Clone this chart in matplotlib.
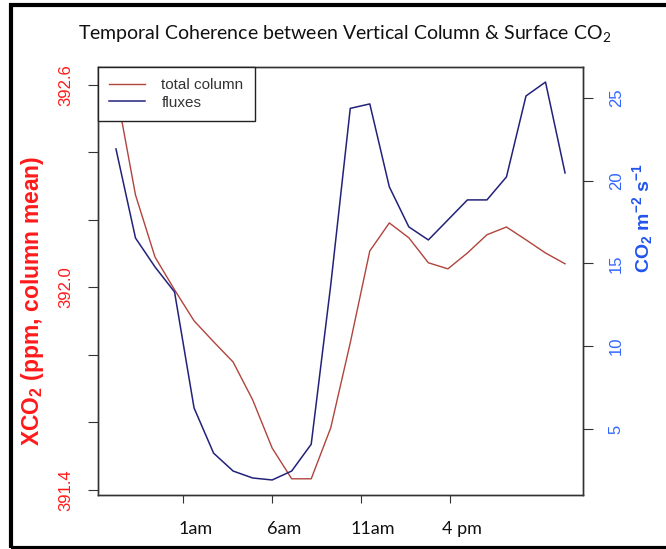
import matplotlib.pyplot as plt
import matplotlib.transforms as mtransforms
from matplotlib.patches import Rectangle
import numpy as np

plt.rcParams['font.family'] = ['Liberation Sans', 'DejaVu Sans']
plt.rcParams['mathtext.default'] = 'regular'

# hourly values, 24 steps
hours = np.arange(1, 25)
xco2 = [392.588, 392.274, 392.090, 391.993, 391.901, 391.839, 391.779, 391.667,
        391.524, 391.433, 391.433, 391.584, 391.836, 392.108, 392.191, 392.147,
        392.073, 392.055, 392.102, 392.156, 392.179, 392.141, 392.102, 392.070]
fluxes = [21.92, 16.54, 14.79, 13.28, 6.27, 3.54, 2.46, 2.04,
          1.92, 2.46, 4.08, 13.70, 24.37, 24.64, 19.63, 17.21,
          16.42, 17.63, 18.84, 18.84, 20.23, 25.12, 25.96, 20.47]

time_ticks = [4.45, 9.0, 13.55, 18.1]
time_labels = ['1am', '6am', '11am', '4 pm']
left_ticks = [391.4, 391.6, 391.8, 392.0, 392.2, 392.4, 392.6]
left_labels = ['391.4', '', '', '392.0', '', '', '392.6']
right_ticks = [5, 10, 15, 20, 25]

red_line = '#b0443c'
blue_line = '#22227a'
red_txt = '#ff1a1a'
blue_txt = '#3366ff'

fig = plt.figure(figsize=(6.66, 5.49), dpi=100)
ax = fig.add_axes([98/666, 54/549, 485/666, 428/549])
ax2 = ax.twinx()

l1, = ax.plot(hours, xco2, color=red_line, lw=1.0)
l2, = ax2.plot(hours, fluxes, color=blue_line, lw=1.1)

ax.set_xlim(0.08, 24.92)
ax.set_ylim(391.385, 392.653)
ax2.set_ylim(1.012, 26.87)

for a in (ax, ax2):
    for s in a.spines.values():
        s.set_color('#333333')
        s.set_linewidth(1.0)

ax.set_yticks(left_ticks)
ax.set_yticklabels(left_labels, rotation=90, va='center', ha='center')
ax.tick_params(axis='y', colors='#333333', labelcolor=red_txt, labelsize=12,
               length=7, pad=16)
ax.set_xticks(time_ticks)
ax.set_xticklabels(time_labels, fontfamily='Lato', fontsize=13)
ax.tick_params(axis='x', colors='#333333', labelcolor='#111111', length=6, pad=13)
# labels in the reference sit a bit right of their ticks
shift = mtransforms.ScaledTranslation(12/100, 0, fig.dpi_scale_trans)
for lab in ax.get_xticklabels():
    lab.set_transform(lab.get_transform() + shift)

ax2.set_yticks(right_ticks)
ax2.set_yticklabels([str(t) for t in right_ticks], rotation=90, va='center', ha='center')
ax2.tick_params(axis='y', colors='#333333', labelcolor=blue_txt, labelsize=12,
                length=7, pad=17)

leg = ax2.legend([l1, l2], ['total column', 'fluxes'], loc='upper left',
                 borderaxespad=0, fancybox=False, framealpha=1, edgecolor='#222222',
                 fontsize=11, handlelength=2.3, handletextpad=1.1,
                 borderpad=0.75, labelspacing=0.2, labelcolor='#333333')
leg.get_frame().set_linewidth(1.0)

fig.text(345/666, 1 - 34/549, 'Temporal Coherence between Vertical Column & Surface CO$_2$',
         ha='center', va='center', fontsize=14, fontfamily='Lato', color='#111111')

fig.text(33/666, 1 - 301/549, 'XCO$_2$ (ppm, column mean)', rotation=90,
         ha='center', va='center', fontsize=16.5, fontweight='bold', color=red_txt)
fig.text(643/666, 1 - 218/549, 'CO$_2$ m$^{-2}$ s$^{-1}$', rotation=90,
         ha='center', va='center', fontsize=14, fontweight='bold', color='#2255ee')

# black frame around the picture
fig.patches.append(Rectangle((11/666, 1.5/549), 2.0, 542.5/549, transform=fig.transFigure,
                             fill=False, edgecolor='black', linewidth=3.0))

fig.savefig('out.png', dpi=100)
